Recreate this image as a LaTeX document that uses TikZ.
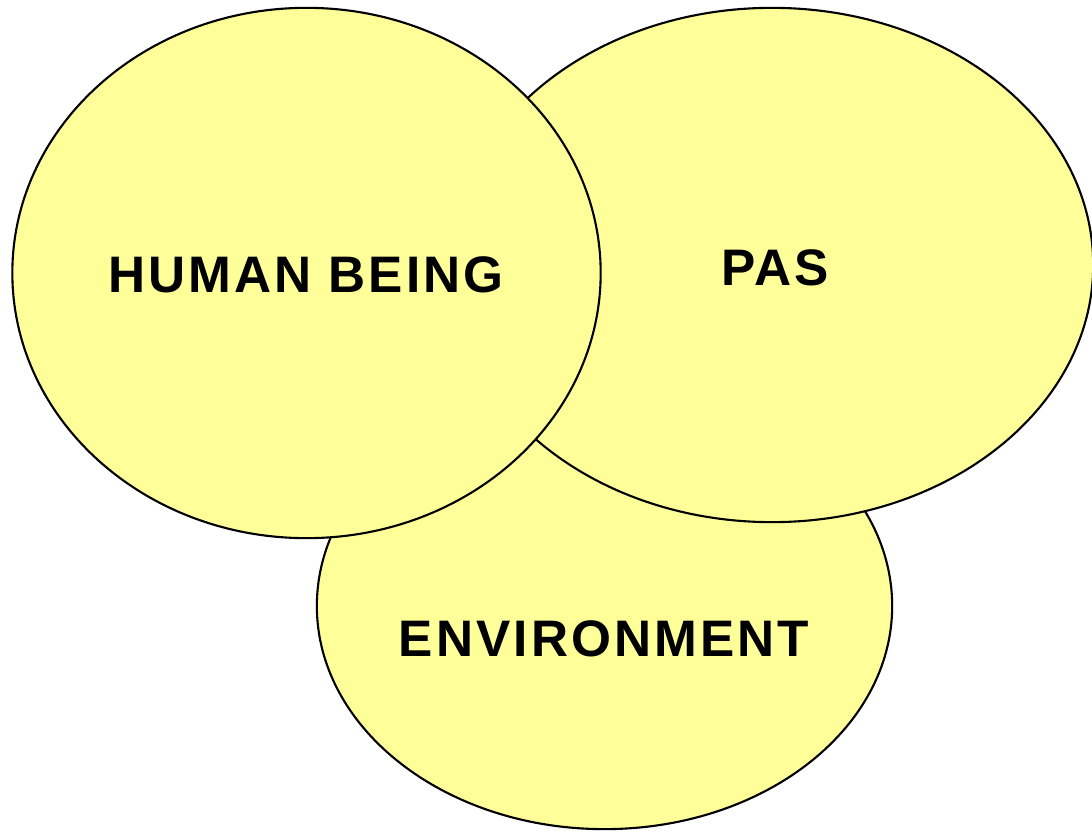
\documentclass[tikz,border=0pt]{standalone}
\usepackage{fontspec}
\setmainfont{Liberation Sans}[LetterSpace=6]
\usetikzlibrary{shapes.geometric}
\definecolor{paleyellow}{HTML}{FFFF99}
\tikzset{
  blob/.style={ellipse, draw=black, fill=paleyellow, line width=0.6pt, inner sep=0pt, outer sep=0pt},
  lbl/.style={font=\fontsize{14.6}{17}\selectfont\bfseries, inner sep=0pt}
}
\begin{document}
\begin{tikzpicture}[x=0.01cm, y=-0.01cm]
        \useasboundingbox (0,0) rectangle (1092,831);

        \node[blob, minimum width=5.75cm, minimum height=4.46cm] (env) at (604.5,606) {};
        \node[blob, minimum width=6.42cm, minimum height=5.14cm] (pas) at (772,265) {};
        \node[blob, minimum width=5.88cm, minimum height=5.30cm] (human) at (306.5,273) {};

        \node[lbl] (humantxt) at (306,275) {HUMAN BEING};
        \node[lbl] (pastxt) at (775,268) {PAS};
        \node[lbl] (envtxt) at (604,639) {ENVIRONMENT};
    \end{tikzpicture}
\end{document}
